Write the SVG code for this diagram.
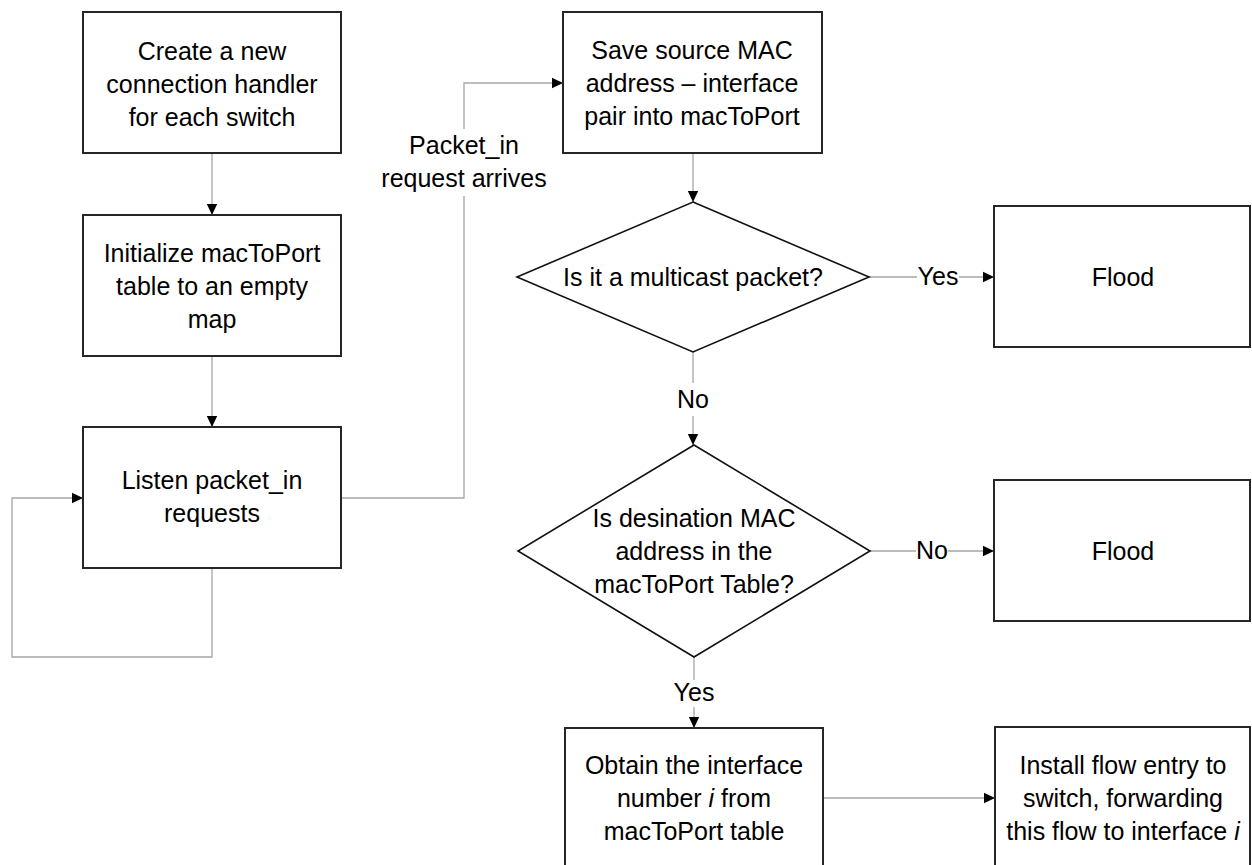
<svg xmlns="http://www.w3.org/2000/svg" width="1252" height="865" viewBox="0 0 1252 865">
  <style>
    .box { fill: #ffffff; stroke: #262626; stroke-width: 2; }
    .dia { fill: #ffffff; stroke: #111111; stroke-width: 1.6; }
    .lbl { font-family: "Liberation Sans", Arial, sans-serif; font-size: 25px; fill: #000000; text-anchor: middle; }
    .edge { fill: none; stroke: #a6a6a6; stroke-width: 1.3; }
    .arrow { marker-end: url(#head); }
    .mask { fill: #ffffff; stroke: none; }
  </style>
  <defs>
    <marker id="head" markerUnits="userSpaceOnUse" markerWidth="12" markerHeight="12" refX="11" refY="6" orient="auto">
      <path d="M0,0.8 L11,6 L0,11.2 Z" fill="#000000"/>
    </marker>
  </defs>

  <rect width="1252" height="865" fill="#ffffff"/>

  <!-- connectors -->
  <g id="connectors">
    <path class="edge arrow" d="M212,153 V215"/>
    <path class="edge arrow" d="M212,356 V427"/>
    <path class="edge arrow" d="M212,568 V657 H12 V498 H83"/>
    <path class="edge arrow" d="M341,498 H464 V83 H563"/>
    <path class="edge arrow" d="M693,153 V202"/>
    <path class="edge arrow" d="M869,277 H994"/>
    <path class="edge arrow" d="M693,352 V445"/>
    <path class="edge arrow" d="M870,551 H994"/>
    <path class="edge arrow" d="M694,657 V728"/>
    <path class="edge arrow" d="M823,798 H995"/>

    <!-- edge labels -->
    <rect class="mask" x="398" y="129" width="134" height="67"/>
    <text class="lbl" x="464" y="154">Packet_in</text>
    <text class="lbl" x="464" y="187">request arrives</text>

    <rect class="mask" x="917" y="264" width="42" height="26"/>
    <text class="lbl" x="938" y="285">Yes</text>

    <rect class="mask" x="677" y="383" width="32" height="33"/>
    <text class="lbl" x="693" y="408">No</text>

    <rect class="mask" x="916" y="538" width="32" height="26"/>
    <text class="lbl" x="932" y="559">No</text>

    <rect class="mask" x="672" y="680" width="44" height="27"/>
    <text class="lbl" x="694" y="701">Yes</text>
  </g>

  <!-- nodes -->
  <g id="create-handler">
    <rect class="box" x="83" y="12" width="258" height="141"/>
    <text class="lbl" x="212" y="60">Create a new</text>
    <text class="lbl" x="212" y="93">connection handler</text>
    <text class="lbl" x="212" y="126">for each switch</text>
  </g>

  <g id="init-table">
    <rect class="box" x="83" y="215" width="258" height="141"/>
    <text class="lbl" x="212" y="262">Initialize macToPort</text>
    <text class="lbl" x="212" y="295">table to an empty</text>
    <text class="lbl" x="212" y="328">map</text>
  </g>

  <g id="listen">
    <rect class="box" x="83" y="427" width="258" height="141"/>
    <text class="lbl" x="212" y="489">Listen packet_in</text>
    <text class="lbl" x="212" y="522">requests</text>
  </g>

  <g id="save-mac">
    <rect class="box" x="563" y="12" width="259" height="141"/>
    <text class="lbl" x="692" y="59">Save source MAC</text>
    <text class="lbl" x="692" y="92">address – interface</text>
    <text class="lbl" x="692" y="125">pair into macToPort</text>
  </g>

  <g id="is-multicast">
    <polygon class="dia" points="693,202 869,277 693,352 517,277"/>
    <text class="lbl" x="693" y="286">Is it a multicast packet?</text>
  </g>

  <g id="flood-1">
    <rect class="box" x="994" y="206" width="256" height="141"/>
    <text class="lbl" x="1123" y="286">Flood</text>
  </g>

  <g id="dest-known">
    <polygon class="dia" points="694,445 870,551 694,657 518,551"/>
    <text class="lbl" x="694" y="527">Is desination MAC</text>
    <text class="lbl" x="694" y="560">address in the</text>
    <text class="lbl" x="694" y="593">macToPort Table?</text>
  </g>

  <g id="flood-2">
    <rect class="box" x="994" y="480" width="256" height="141"/>
    <text class="lbl" x="1123" y="560">Flood</text>
  </g>

  <g id="obtain-interface">
    <rect class="box" x="565" y="728" width="258" height="141"/>
    <text class="lbl" x="694" y="774">Obtain the interface</text>
    <text class="lbl" x="694" y="807">number <tspan font-style="italic">i</tspan> from</text>
    <text class="lbl" x="694" y="840">macToPort table</text>
  </g>

  <g id="install-flow">
    <rect class="box" x="995" y="727" width="255" height="141"/>
    <text class="lbl" x="1123" y="774">Install flow entry to</text>
    <text class="lbl" x="1123" y="807">switch, forwarding</text>
    <text class="lbl" x="1123" y="840">this flow to interface <tspan font-style="italic">i</tspan></text>
  </g>
</svg>
